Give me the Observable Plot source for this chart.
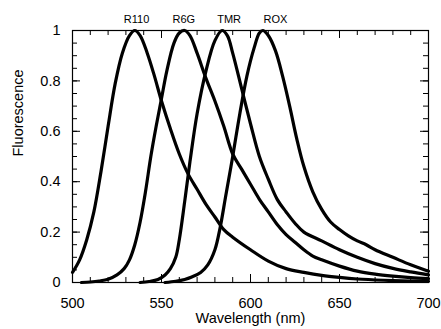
<!DOCTYPE html>
<html><head><meta charset="utf-8">
<script src="https://cdn.jsdelivr.net/npm/d3@7"></script>
<script src="https://cdn.jsdelivr.net/npm/@observablehq/plot@0.6"></script>
<style>body{margin:0;background:#fff}</style>
</head><body><div id="chart"></div>
<script>
const dyes = ["R110", "R6G", "TMR", "ROX"];

const r110Wl = [500, 504, 508, 512, 516, 520, 524, 528, 532, 535, 538, 542, 546, 550, 555, 560, 565, 570, 575, 580, 585, 590, 600, 610, 620, 630, 640, 650, 660, 675, 690, 700];
const r110F  = [0.04, 0.09, 0.17, 0.28, 0.44, 0.62, 0.79, 0.91, 0.98, 1.0, 0.98, 0.91, 0.82, 0.72, 0.61, 0.51, 0.43, 0.37, 0.31, 0.26, 0.21, 0.18, 0.13, 0.085, 0.055, 0.04, 0.028, 0.02, 0.014, 0.009, 0.006, 0.005];

const r6gWl = [505, 510, 515, 520, 525, 529, 532, 535, 538, 541, 544, 547, 550, 553, 557, 560, 563, 566, 570, 575, 580, 585, 590, 595, 600, 605, 610, 615, 620, 625, 630, 635, 640, 650, 660, 670, 680, 690, 700];
const r6gF  = [0.0, 0.002, 0.006, 0.013, 0.03, 0.055, 0.09, 0.15, 0.24, 0.36, 0.5, 0.62, 0.73, 0.84, 0.95, 0.99, 1.0, 0.98, 0.91, 0.81, 0.72, 0.62, 0.51, 0.45, 0.39, 0.33, 0.28, 0.23, 0.19, 0.16, 0.13, 0.105, 0.09, 0.065, 0.045, 0.033, 0.025, 0.019, 0.015];

const tmrWl = [538, 543, 548, 552, 555, 558, 560, 563, 566, 570, 575, 580, 584, 587, 590, 595, 600, 605, 610, 615, 620, 625, 630, 640, 650, 660, 670, 680, 690, 700];
const tmrF  = [0.0, 0.004, 0.012, 0.03, 0.055, 0.1, 0.17, 0.32, 0.48, 0.67, 0.84, 0.96, 1.0, 0.98, 0.91, 0.77, 0.63, 0.5, 0.41, 0.33, 0.28, 0.235, 0.2, 0.165, 0.13, 0.1, 0.075, 0.056, 0.042, 0.03];

const roxWl = [552, 558, 563, 567, 572, 576, 580, 583, 586, 590, 594, 598, 602, 605, 607, 610, 614, 618, 622, 626, 630, 635, 640, 645, 650, 655, 660, 665, 670, 680, 690, 700];
const roxF  = [0.0, 0.005, 0.012, 0.022, 0.04, 0.07, 0.13, 0.22, 0.34, 0.5, 0.67, 0.82, 0.93, 0.99, 1.0, 0.98, 0.92, 0.82, 0.7, 0.57, 0.46, 0.36, 0.29, 0.24, 0.21, 0.185, 0.165, 0.15, 0.13, 0.1, 0.07, 0.045];

const labelWl = [536, 562.5, 588, 614];
const labelF = [1, 1, 1, 1];

const xTicks = [500, 550, 600, 650, 700];
const yTicks = [0, 0.2, 0.4, 0.6, 0.8, 1];
const xMinor = d3.range(500, 701, 10);
const yMinor = d3.range(0, 1.0001, 0.05);

const series = [[r110Wl, r110F], [r6gWl, r6gF], [tmrWl, tmrF], [roxWl, roxF]];
const rows = [];
series.forEach(([wl, f], i) => wl.forEach((w, j) => rows.push({dye: dyes[i], wl: w, f: f[j]})));
const labelRows = dyes.map((d, i) => ({dye: d, wl: labelWl[i], f: labelF[i]}));

const W = 441, H = 329, mL = 72, mR = 13, mT = 30, mB = 47;
const iw = W - mL - mR, ih = H - mT - mB;

const chart = Plot.plot({
  width: W, height: H,
  marginLeft: mL, marginRight: mR, marginTop: mT, marginBottom: mB,
  style: {fontFamily: "'Liberation Sans', Arial, Helvetica, sans-serif", fontSize: "13px", background: "#fff", color: "#000"},
  x: {domain: [500, 700]},
  y: {domain: [0, 1]},
  marks: [
    Plot.frame({stroke: "#000", strokeWidth: 1.2}),
    Plot.tickY(yMinor, {y: d => d, insetRight: iw - 5, stroke: "#000"}),
    Plot.tickY(yMinor, {y: d => d, insetLeft: iw - 5, stroke: "#000"}),
    Plot.tickY(yTicks, {y: d => d, insetRight: iw - 8, stroke: "#000"}),
    Plot.tickY(yTicks, {y: d => d, insetLeft: iw - 8, stroke: "#000"}),
    Plot.tickX(xMinor, {x: d => d, insetTop: ih - 5, stroke: "#000"}),
    Plot.tickX(xMinor, {x: d => d, insetBottom: ih - 5, stroke: "#000"}),
    Plot.tickX(xTicks, {x: d => d, insetTop: ih - 8, stroke: "#000"}),
    Plot.tickX(xTicks, {x: d => d, insetBottom: ih - 8, stroke: "#000"}),
    Plot.axisX(xTicks, {tickSize: 0, tickPadding: 15, tickFormat: d => String(d), label: null, fontSize: 14.5}),
    Plot.axisY(yTicks, {tickSize: 0, tickPadding: 12, tickFormat: d => String(d), label: null, fontSize: 14.5}),
    Plot.line(rows, {x: "wl", y: "f", z: "dye", stroke: "#000", strokeWidth: 3.2, curve: "catmull-rom", strokeLinejoin: "round"}),
    Plot.text(labelRows, {x: "wl", y: "f", text: "dye", dy: -11, fontSize: 11}),
    Plot.text(["Wavelength (nm)"], {frameAnchor: "bottom", dy: 40, text: d => d, fontSize: 14.5}),
    Plot.text(["Fluorescence"], {frameAnchor: "left", dx: -54, rotate: -90, text: d => d, fontSize: 14.5})
  ]
});
document.getElementById("chart").appendChild(chart);
</script>
</body></html>
